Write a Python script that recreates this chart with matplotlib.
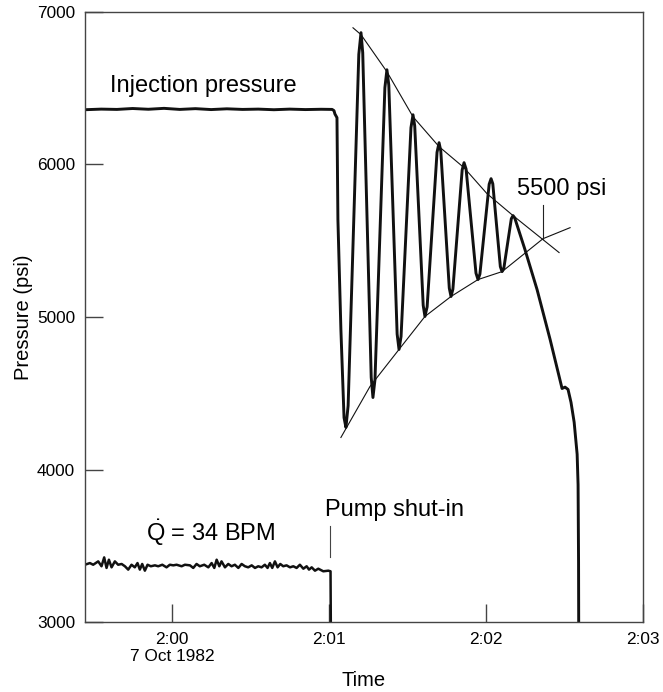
import matplotlib
matplotlib.use("Agg")
import matplotlib.pyplot as plt
import numpy as np

plt.rcParams['font.family'] = ['Liberation Sans', 'DejaVu Sans']
plt.rcParams['mathtext.fontset'] = 'custom'
plt.rcParams['mathtext.rm'] = 'Liberation Sans'
plt.rcParams['mathtext.it'] = 'Liberation Sans:italic'

# time in minutes after 2:00, pressure in psi
inj_t = [-0.554, -0.45, -0.35, -0.25, -0.15, -0.05, 0.05, 0.15, 0.25, 0.35,
         0.45, 0.55, 0.65, 0.75, 0.85, 0.95, 1.02, 1.032, 1.038]
inj_p = [6358, 6362, 6360, 6366, 6361, 6367, 6360, 6365, 6359, 6364,
         6360, 6362, 6358, 6362, 6359, 6361, 6360, 6352, 6330]

# drop after shut-in and the oscillations (with shoulders near peaks / troughs)
osc_t = [1.051, 1.057, 1.076, 1.096, 1.108,
         1.122, 1.190, 1.204, 1.215, 1.269, 1.280,
         1.293, 1.356, 1.369, 1.381, 1.434, 1.446,
         1.459, 1.522, 1.535, 1.546, 1.600, 1.611,
         1.625, 1.688, 1.701, 1.712, 1.766, 1.777,
         1.789, 1.848, 1.860, 1.873, 1.936, 1.949,
         1.961, 2.020, 2.032, 2.043, 2.091, 2.102,
         2.113, 2.161, 2.172, 2.183]
osc_p = [6306, 5638, 4917, 4340, 4276,
         4418, 6721, 6863, 6731, 4604, 4472,
         4590, 6502, 6620, 6519, 4888, 4787,
         4872, 6240, 6325, 6252, 5076, 5003,
         5066, 6079, 6142, 6087, 5189, 5134,
         5182, 5963, 6011, 5969, 5287, 5245,
         5281, 5870, 5906, 5873, 5330, 5297,
         5317, 5644, 5664, 5648]

# decline, small hump and final fall
dec_t = [2.248, 2.325, 2.408, 2.484, 2.503, 2.522, 2.541, 2.561, 2.580, 2.586, 2.589, 2.590]
dec_p = [5441, 5179, 4852, 4531, 4540, 4525, 4440, 4310, 4100, 3900, 3400, 2950]

# flow rate trace (plotted on the same pressure scale)
q_t = [-0.554, -0.522, -0.501, -0.469, -0.448, -0.431, -0.416, -0.401, -0.384, -0.363,
       -0.342, -0.320, -0.299, -0.278, -0.257, -0.236, -0.219, -0.204, -0.189, -0.172,
       -0.155, -0.134, -0.108, -0.087, -0.061, -0.034, -0.013, 0.009, 0.030, 0.062,
       0.083, 0.115, 0.136, 0.157, 0.178, 0.206, 0.232, 0.253, 0.270, 0.285,
       0.302, 0.316, 0.338, 0.359, 0.380, 0.401, 0.423, 0.444, 0.465, 0.486,
       0.508, 0.529, 0.550, 0.571, 0.592, 0.609, 0.624, 0.639, 0.656, 0.673,
       0.690, 0.709, 0.730, 0.752, 0.773, 0.794, 0.815, 0.837, 0.858, 0.873,
       0.890, 0.911, 0.932, 0.964, 0.996, 1.010, 1.012]
q_p = [3376, 3387, 3376, 3398, 3366, 3424, 3355, 3409, 3359, 3398,
       3376, 3381, 3366, 3344, 3376, 3359, 3387, 3344, 3381, 3337,
       3376, 3366, 3372, 3366, 3376, 3359, 3376, 3372, 3376, 3366,
       3376, 3372, 3355, 3381, 3366, 3376, 3359, 3387, 3355, 3409,
       3366, 3398, 3359, 3381, 3366, 3376, 3355, 3381, 3366, 3359,
       3372, 3355, 3366, 3359, 3376, 3355, 3387, 3355, 3398, 3359,
       3381, 3366, 3372, 3359, 3366, 3355, 3376, 3350, 3366, 3344,
       3359, 3337, 3350, 3333, 3337, 3333, 2950]

# envelopes
up_t = [1.153, 1.204, 1.369, 1.535, 1.701, 1.860, 2.006, 2.172, 2.465]
up_p = [6895, 6850, 6607, 6312, 6116, 5978, 5808, 5664, 5422]
lo_t = [1.076, 1.261, 1.446, 1.611, 1.777, 1.949, 2.102, 2.363, 2.535]
lo_p = [4210, 4544, 4787, 5003, 5134, 5245, 5297, 5513, 5585]

xticks = [0, 1, 2, 3]
xlabels = ['2:00\n7 Oct 1982', '2:01', '2:02', '2:03']
yticks = [3000, 4000, 5000, 6000, 7000]

fig = plt.figure(figsize=(6.63, 6.92), dpi=100)
ax = fig.add_axes([0.128, 0.101, 0.842, 0.882])

pt = inj_t + osc_t + dec_t
pp = inj_p + osc_p + dec_p
ax.plot(pt, pp, color='#111111', lw=2.1, solid_joinstyle='round')
ax.plot(q_t, q_p, color='#111111', lw=1.8, solid_joinstyle='round')
ax.plot(up_t, up_p, color='#111111', lw=0.8)
ax.plot(lo_t, lo_p, color='#111111', lw=0.8)

# marker ticks for annotations
ax.plot([2.363, 2.363], [5513, 5736], color='#222222', lw=0.8)
ax.plot([1.006, 1.006], [3424, 3627], color='#444444', lw=0.8)

ax.text(-0.395, 6476, 'Injection pressure', fontsize=17, va='baseline')
ax.text(2.197, 5802, '5500 psi', fontsize=17, va='baseline')
ax.text(-0.166, 3531, r'$\dot{\mathrm{Q}}$ = 34 BPM', fontsize=17, va='baseline')
ax.text(0.975, 3693, 'Pump shut-in', fontsize=17, va='baseline')

ax.set_xlim(-0.554, 3.0)
ax.set_ylim(3000, 7000)
ax.set_xticks(xticks)
ax.set_xticklabels(xlabels)
ax.set_yticks(yticks)
ax.tick_params(direction='in', length=13, width=1, color='#444444',
               labelsize=12.4, pad=7)
for s in ax.spines.values():
    s.set_color('#444444')
    s.set_linewidth(1)

ax.set_xlabel('Time', fontsize=14.5, labelpad=5)
ax.set_ylabel('Pressure (psi)', fontsize=14.5, labelpad=3)

fig.savefig('out.png', dpi=100)
